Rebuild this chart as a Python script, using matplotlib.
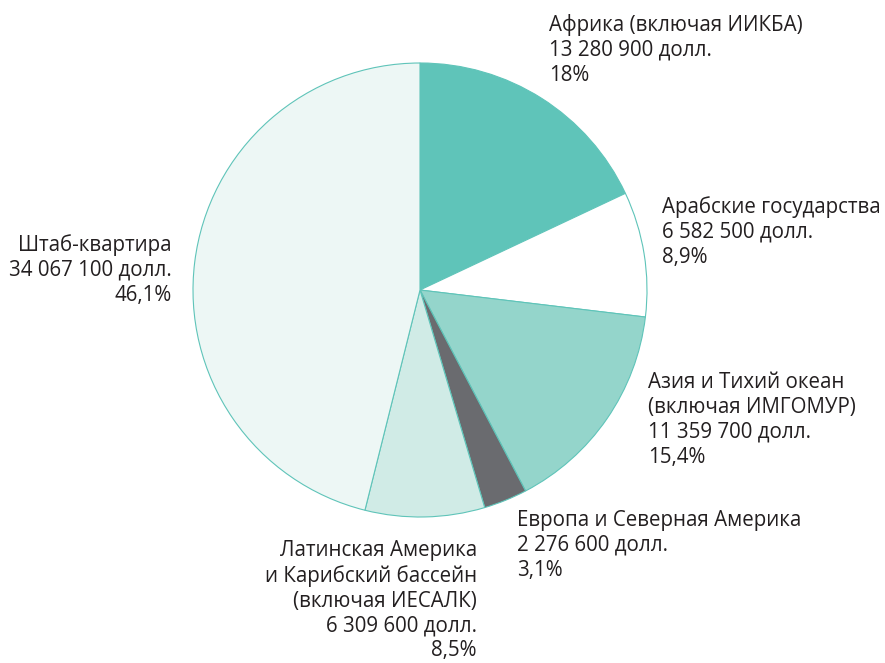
import matplotlib.pyplot as plt

plt.rcParams['font.family'] = ['Open Sans', 'DejaVu Sans']

regions = ['Африка (включая ИИКБА)', 'Арабские государства', 'Азия и Тихий океан\n(включая ИМГОМУР)',
           'Европа и Северная Америка', 'Латинская Америка\nи Карибский бассейн\n(включая ИЕСАЛК)',
           'Штаб-квартира']
amounts = ['13 280 900 долл.', '6 582 500 долл.', '11 359 700 долл.',
           '2 276 600 долл.', '6 309 600 долл.', '34 067 100 долл.']
shares = [18, 8.9, 15.4, 3.1, 8.5, 46.1]
share_labels = ['18%', '8,9%', '15,4%', '3,1%', '8,5%', '46,1%']
colors = ['#5fc4b9', '#ffffff', '#94d5cb', '#6a6b6f', '#d0ebe6', '#edf7f5']

W, H = 885, 663
fig = plt.figure(figsize=(W / 100, H / 100), dpi=100)
ax = fig.add_axes([0, 0, 1, 1])

ax.pie(shares, colors=colors, startangle=90, counterclock=False,
       center=(420, H - 290), radius=227, frame=True,
       wedgeprops=dict(edgecolor='#5fc4b9', linewidth=0.8))

# label anchors (pixel coords, top of first line), alignment
pos = [(549, 14, 'left'), (662, 196, 'left'), (648, 372, 'left'),
       (517, 510, 'left'), (477, 540, 'right'), (172, 234, 'right')]
for (x, y, ha), r, a, s in zip(pos, regions, amounts, share_labels):
    ax.text(x, H - y, f'{r}\n{a}\n{s}', ha=ha, va='top', fontsize=14.8,
            color='#231f20', linespacing=1.24, multialignment=ha)

ax.set_xlim(0, W)
ax.set_ylim(0, H)
ax.set_aspect('auto')
ax.axis('off')

fig.savefig('out.png', dpi=100)
